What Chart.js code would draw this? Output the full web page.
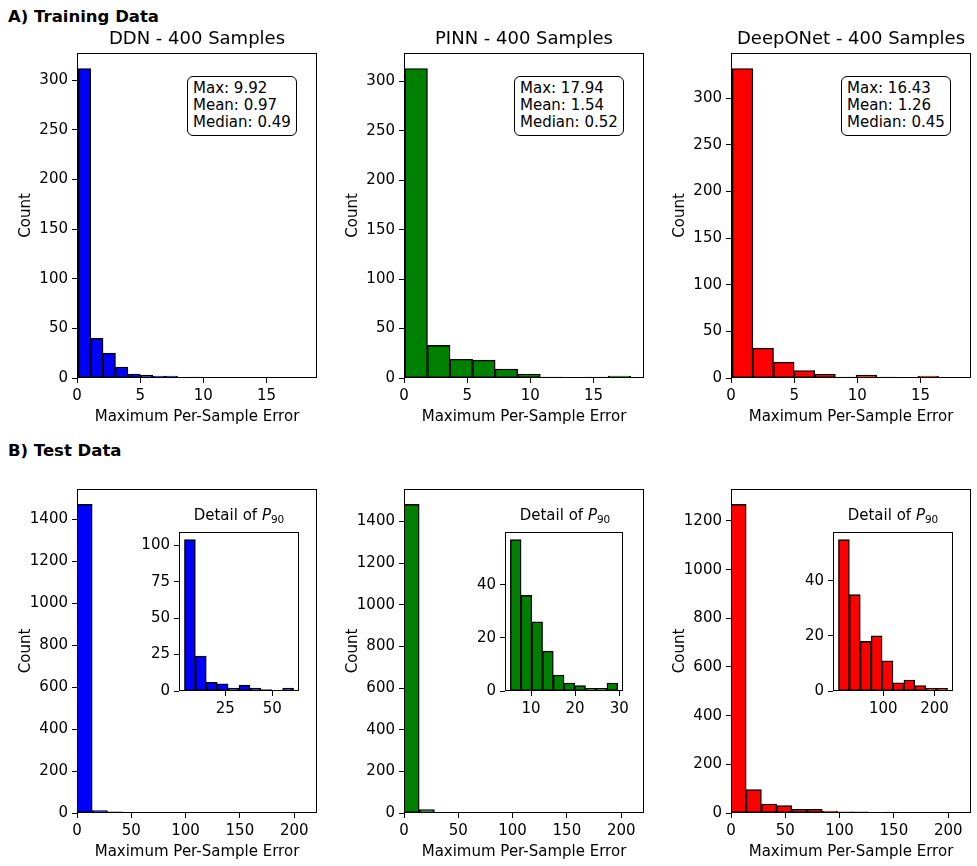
<!DOCTYPE html>
<html>
<head>
<meta charset="utf-8">
<script src="https://cdn.jsdelivr.net/npm/chart.js@4.4.1/dist/chart.umd.min.js"></script>
<style>
html,body{margin:0;padding:0;background:#fff;}
body{width:977px;height:866px;position:relative;overflow:hidden;font-family:"DejaVu Sans",sans-serif;color:#000;}
canvas{position:absolute;}
.head{position:absolute;left:8px;font-weight:bold;font-size:16.5px;line-height:20px;white-space:nowrap;}
.stat{position:absolute;top:76px;border:1.4px solid #000;border-radius:6px;background:#fff;font-size:15px;line-height:17.2px;padding:3px 5px 3px 5px;white-space:nowrap;}
.ititle{position:absolute;font-size:15px;line-height:20px;white-space:nowrap;transform:translateX(-50%);}
.ititle sub{font-size:70%;vertical-align:-0.3em;line-height:0;}
</style>
</head>
<body>
<div class="head" style="top:7px">A) Training Data</div>
<div class="head" style="top:441px">B) Test Data</div>
<script>
// ---------------- data ----------------
const trainTitles = ['DDN - 400 Samples', 'PINN - 400 Samples', 'DeepONet - 400 Samples'];
const barColors = ['#0000ff', '#008000', '#ff0000'];
const xLabel = 'Maximum Per-Sample Error';
const yLabel = 'Count';

// Training data histograms (10 bins each)
const trainDDN = [312, 40, 25, 11, 4, 3, 2, 2, 0, 1];
const trainPINN = [313, 33, 19, 18, 9, 4, 1, 0, 1, 2];
const trainDeepONet = [332, 32, 17, 8, 4, 1, 3, 1, 0, 2];
const trainRangeDDN = [0.1, 9.92];
const trainRangePINN = [0.07, 17.94];
const trainRangeDeepONet = [0.1, 16.43];
const statsDDN = ['Max: 9.92', 'Mean: 0.97', 'Median: 0.49'];
const statsPINN = ['Max: 17.94', 'Mean: 1.54', 'Median: 0.52'];
const statsDeepONet = ['Max: 16.43', 'Mean: 1.26', 'Median: 0.45'];

// Test data histograms (15 shared bins)
const testRange = [0, 210];
const testDDN = [1470, 11, 5, 2, 2, 0, 0, 0, 0, 0, 0, 0, 0, 0, 0];
const testPINN = [1482, 16, 2, 0, 0, 0, 0, 0, 0, 0, 0, 0, 0, 0, 0];
const testDeepONet = [1268, 96, 37, 30, 15, 15, 8, 5, 5, 1, 4, 1, 1, 1, 1];

// Insets: detail of P90 (10 bins each)
const insetDDN = [104, 24, 6, 5, 2, 4, 2, 1, 0, 2];
const insetPINN = [57, 36, 26, 15, 6, 3, 2, 1, 1, 3];
const insetDeepONet = [55, 35, 18, 20, 11, 3, 4, 2, 1, 1];
const insetRangeDDN = [3.25, 61.35];
const insetRangePINN = [5.31, 29.66];
const insetRangeDeepONet = [12.7, 225.3];

// Tick labels
const trainXTicks = [0, 5, 10, 15];
const trainYTicks = [0, 50, 100, 150, 200, 250, 300];
const testXTicks = [0, 50, 100, 150, 200];
const testYTicksDDN = [0, 200, 400, 600, 800, 1000, 1200, 1400];
const testYTicksPINN = [0, 200, 400, 600, 800, 1000, 1200, 1400];
const testYTicksDeepONet = [0, 200, 400, 600, 800, 1000, 1200];
const insetXTicksDDN = [25, 50];
const insetXTicksPINN = [10, 20, 30];
const insetXTicksDeepONet = [100, 200];
const insetYTicksDDN = [0, 25, 50, 75, 100];
const insetYTicksPINN = [0, 20, 40];
const insetYTicksDeepONet = [0, 20, 40];

// ---------------- layout ----------------
const colLeft = [77, 404, 731], AX_W = 240, AX_H = 325;
const TOP_T = 53, BOT_T = 488;
const insetLeft = [179, 505, 833], INS_W = 120, INS_T = 529, INS_H = 162;
const trainXMax = 19.0, testXMax = 221;

Chart.defaults.font.family = 'DejaVu Sans';
Chart.defaults.font.size = 15;
Chart.defaults.color = '#000';

const framePlugin = {
  id: 'frame',
  afterDatasetsDraw(chart) {
    const a = chart.chartArea, c = chart.ctx;
    const l = Math.round(a.left), t = Math.round(a.top), r = Math.round(a.right), b = Math.round(a.bottom);
    c.save();
    c.strokeStyle = '#000';
    c.lineWidth = 1;
    c.strokeRect(l + 0.5, t + 0.5, r - l - 1, b - t - 1);
    c.restore();
  }
};
const whiteBg = {
  id: 'whiteBg',
  beforeDraw(chart) {
    const a = chart.chartArea, c = chart.ctx;
    c.save(); c.fillStyle = '#fff';
    c.fillRect(a.left, a.top, a.right - a.left, a.bottom - a.top);
    c.restore();
  }
};

function hist(spec) {
  const {counts, range, color, axL, axT, axW, axH, xMin, xMax, yMax, xTicks, yTicks, title, inset} = spec;
  const n = counts.length, w = (range[1] - range[0]) / n;
  const data = counts.map((c, i) => ({x: range[0] + (i + 0.5) * w, y: c}));
  const L = inset ? 40 : 62, R = 8, B = inset ? 27 : 48, T = inset ? 10 : (title ? 26 : 12);
  const cv = document.createElement('canvas');
  cv.width = L + axW + R; cv.height = T + axH + B;
  cv.style.left = (axL - L) + 'px'; cv.style.top = (axT - T) + 'px';
  document.body.appendChild(cv);
  const font = {family: 'DejaVu Sans', size: 15};
  const grid = {display: true, drawOnChartArea: false, drawTicks: true, tickLength: 5, color: '#000', lineWidth: 1, offset: false};
  const plugins = [framePlugin];
  if (inset) plugins.unshift(whiteBg);
  new Chart(cv, {
    type: 'bar',
    data: {datasets: [{data, backgroundColor: color, borderColor: '#000', borderWidth: 1.4, borderSkipped: false,
      barPercentage: 1, categoryPercentage: 1}]},
    options: {
      responsive: false, animation: false, devicePixelRatio: 1,
      layout: {padding: {left: 0, right: R, top: title ? 0 : T, bottom: 0}},
      plugins: {
        legend: {display: false}, tooltip: {enabled: false},
        title: title ? {display: true, text: title, fullSize: false, color: '#000',
          font: {family: 'DejaVu Sans', size: 18, weight: 'normal'}, padding: {top: 2, bottom: 2.4}} : {display: false}
      },
      scales: {
        x: {
          type: 'linear', min: xMin, max: xMax, offset: false, grid, border: {display: false},
          afterBuildTicks: s => { s.ticks = xTicks.map(v => ({value: v})); },
          afterFit: s => { s.height = B; },
          ticks: {font, color: '#000', padding: 4, maxRotation: 0, autoSkip: false, callback: v => String(v)},
          title: inset ? {display: false} : {display: true, text: xLabel, font, color: '#000', padding: {top: 0, bottom: 0}}
        },
        y: {
          type: 'linear', min: 0, max: yMax, grid, border: {display: false},
          afterBuildTicks: s => { s.ticks = yTicks.map(v => ({value: v})); },
          afterFit: s => { s.width = L; },
          ticks: {font, color: '#000', padding: 4, autoSkip: false, callback: v => String(v)},
          title: inset ? {display: false} : {display: true, text: yLabel, font, color: '#000', padding: {top: 2, bottom: 0}}
        }
      }
    },
    plugins
  });
}

const trainSets = [[trainDDN, trainRangeDDN], [trainPINN, trainRangePINN], [trainDeepONet, trainRangeDeepONet]];
const statSets = [statsDDN, statsPINN, statsDeepONet];
const testSets = [[testDDN, testYTicksDDN], [testPINN, testYTicksPINN], [testDeepONet, testYTicksDeepONet]];
const insetSets = [[insetDDN, insetRangeDDN, insetXTicksDDN, insetYTicksDDN],
                   [insetPINN, insetRangePINN, insetXTicksPINN, insetYTicksPINN],
                   [insetDeepONet, insetRangeDeepONet, insetXTicksDeepONet, insetYTicksDeepONet]];

for (let k = 0; k < 3; k++) {
  const [cts, rng] = trainSets[k];
  hist({counts: cts, range: rng, color: barColors[k], axL: colLeft[k], axT: TOP_T, axW: AX_W, axH: AX_H,
    xMin: 0, xMax: trainXMax, yMax: Math.max(...cts) * 1.05, xTicks: trainXTicks, yTicks: trainYTicks, title: trainTitles[k]});
  const [tc, ty] = testSets[k];
  hist({counts: tc, range: testRange, color: barColors[k], axL: colLeft[k], axT: BOT_T, axW: AX_W, axH: AX_H,
    xMin: 0, xMax: testXMax, yMax: Math.max(...tc) * 1.05, xTicks: testXTicks, yTicks: ty});
}
for (let k = 0; k < 3; k++) {
  const [ic, ir, ixt, iyt] = insetSets[k];
  const span = ir[1] - ir[0];
  hist({counts: ic, range: ir, color: barColors[k], axL: insetLeft[k], axT: INS_T, axW: INS_W, axH: INS_H,
    xMin: ir[0] - 0.05 * span, xMax: ir[1] + 0.05 * span, yMax: Math.max(...ic) * 1.05, xTicks: ixt, yTicks: iyt, inset: true});
  const t = document.createElement('div');
  t.className = 'ititle';
  t.style.left = (insetLeft[k] + INS_W / 2) + 'px';
  t.style.top = '505px';
  t.innerHTML = 'Detail of <i>P</i><sub>90</sub>';
  document.body.appendChild(t);
}
for (let k = 0; k < 3; k++) {
  const d = document.createElement('div');
  d.className = 'stat';
  d.innerHTML = statSets[k].join('<br>');
  document.body.appendChild(d);
  d.style.left = (colLeft[k] + AX_W - 20 - d.offsetWidth) + 'px';
}
</script>
</body>
</html>
